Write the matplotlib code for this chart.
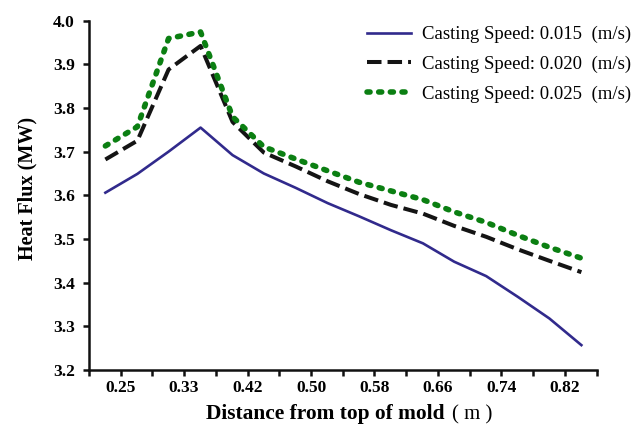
import matplotlib.pyplot as plt
import numpy as np

# distance from top of mold (m) for each sample point
distance = [0.230, 0.272, 0.313, 0.355, 0.397, 0.438, 0.480, 0.522,
            0.563, 0.605, 0.647, 0.688, 0.730, 0.772, 0.813, 0.855]

# heat flux (MW) for each casting speed
flux_015 = [3.606, 3.649, 3.700, 3.755, 3.692, 3.650, 3.617, 3.582,
            3.552, 3.520, 3.490, 3.448, 3.415, 3.367, 3.318, 3.257]
flux_020 = [3.682, 3.725, 3.888, 3.942, 3.768, 3.698, 3.666, 3.632,
            3.603, 3.578, 3.558, 3.530, 3.505, 3.476, 3.450, 3.424]
flux_025 = [3.713, 3.757, 3.959, 3.974, 3.780, 3.711, 3.683, 3.656,
            3.630, 3.610, 3.590, 3.562, 3.538, 3.508, 3.481, 3.456]

speed_labels = ['Casting Speed: 0.015  (m/s)',
                'Casting Speed: 0.020  (m/s)',
                'Casting Speed: 0.025  (m/s)']

tick_labels = ['0.25', '0.33', '0.42', '0.50', '0.58', '0.66', '0.74', '0.82']

serif = ['Liberation Serif', 'DejaVu Serif']
plt.rcParams['font.family'] = serif

fig = plt.figure(figsize=(6.44, 4.29), dpi=100)
ax = fig.add_axes([0.138, 0.1375, 0.789, 0.8145])

ax.plot(distance, flux_015, color='#312a8c', lw=1.9, label=speed_labels[0])
ax.plot(distance, flux_020, color='#141414', lw=2.9, ls=(0, (3.6, 1.5)),
        label=speed_labels[1])
ax.plot(distance, flux_025, color='#0b7f12', lw=4.0, ls=(0, (0.55, 1.55)),
        dash_capstyle='round', label=speed_labels[2])

ax.set_xlim(5 / 24, 0.8755)
ax.set_ylim(3.2, 4.0)
ax.set_xticks(np.arange(5 / 24, 0.88, 1 / 24))
ax.set_xticklabels(['' if i % 2 == 0 else tick_labels[i // 2]
                    for i in range(17)])
ax.set_yticks(np.arange(3.2, 4.01, 0.1))
ax.set_yticklabels([f'{v:.1f}' for v in np.arange(3.2, 4.01, 0.1)])

for side in ('top', 'right'):
    ax.spines[side].set_visible(False)
for side in ('left', 'bottom'):
    ax.spines[side].set_linewidth(1.8)
    ax.spines[side].set_color('#111111')
ax.tick_params(direction='out', length=4, width=1.8, color='#111111',
               labelsize=12.5)
ax.tick_params(axis='x', pad=3)
ax.tick_params(axis='y', pad=6)
for lab in ax.get_xticklabels() + ax.get_yticklabels():
    lab.set_fontweight('bold')

ax.set_ylabel('Heat Flux (MW)', fontsize=14.5, fontweight='bold')
ax.yaxis.set_label_coords(-0.102, 0.52)
xl = ax.set_xlabel('Distance from top of mold', fontsize=15.4,
                   fontweight='bold', labelpad=6)
xl.set_x(0.465)

# unit in regular weight after the bold label
fig.canvas.draw()
bb = xl.get_window_extent()
fig.text(bb.x1 / fig.dpi / 6.44 + 0.012, bb.y0 / fig.dpi / 4.29, '( m )',
         fontsize=15, va='bottom', ha='left')

ax.legend(loc='upper right', bbox_to_anchor=(1.0, 0.97),
          bbox_transform=fig.transFigure, frameon=False, fontsize=13.5,
          handlelength=2.3, handletextpad=0.6, labelspacing=0.66,
          borderaxespad=0.3)

fig.savefig('out.png', dpi=100)
